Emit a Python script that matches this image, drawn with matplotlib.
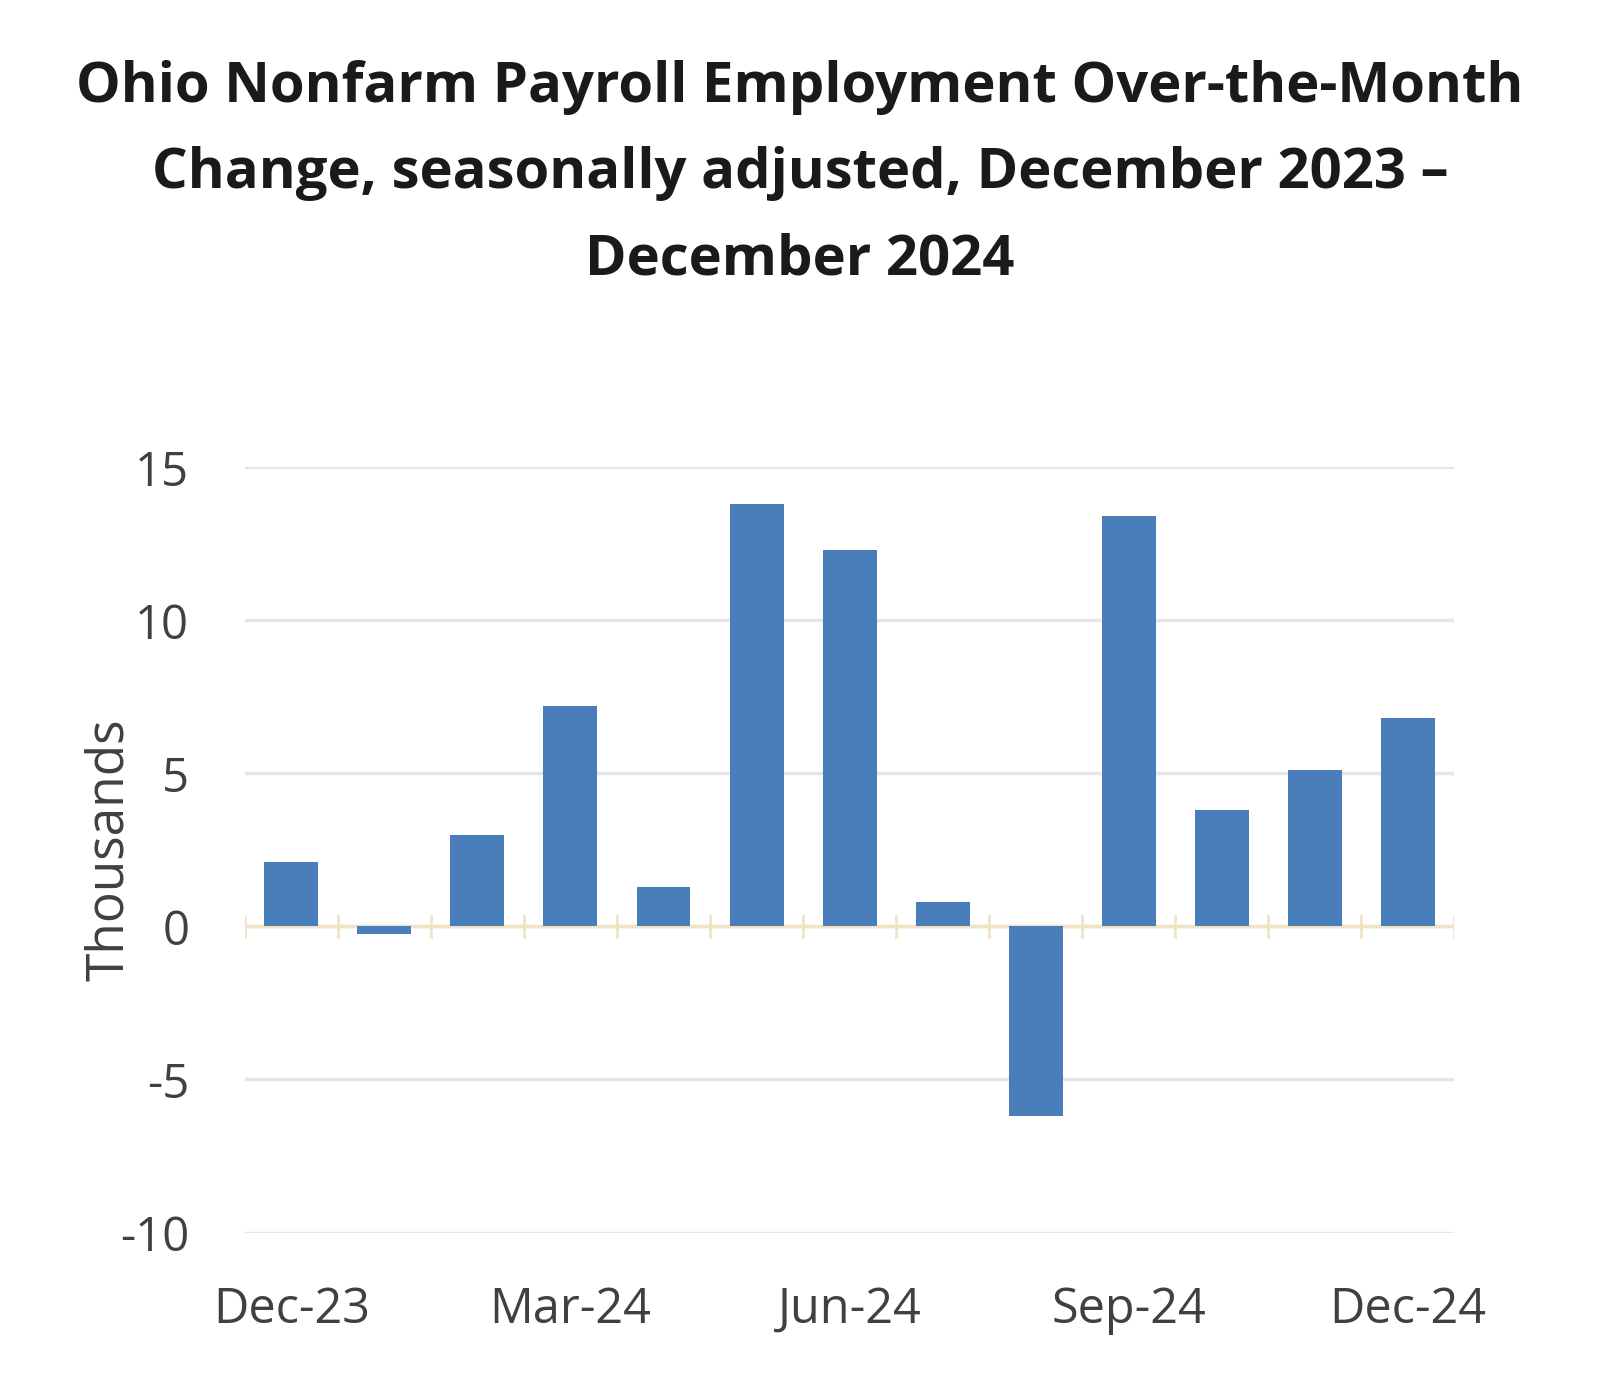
import matplotlib
matplotlib.use("Agg")
import matplotlib.pyplot as plt
import numpy as np

months = ["Dec-23", "Jan-24", "Feb-24", "Mar-24", "Apr-24", "May-24", "Jun-24",
          "Jul-24", "Aug-24", "Sep-24", "Oct-24", "Nov-24", "Dec-24"]
change = [2.1, -0.25, 3.0, 7.2, 1.3, 13.8, 12.3, 0.8, -6.2, 13.4, 3.8, 5.1, 6.8]
y_ticks = [-10, -5, 0, 5, 10, 15]

plt.rcParams['font.family'] = ['Open Sans', 'DejaVu Sans']

fig = plt.figure(figsize=(16, 13.99), dpi=100)
ax = fig.add_axes([0.153, 0.119, 0.756, 0.547])

x = np.arange(len(months))
ax.bar(x, change, width=0.58, color='#4a7ebb', zorder=3)

ax.set_ylim(-10, 15)
ax.set_xlim(-0.5, len(months) - 0.5)
ax.set_yticks(y_ticks)
ax.set_yticklabels([str(v) for v in y_ticks], fontsize=34, color='#404040')
ax.yaxis.grid(True, color='#e6e6e6', linewidth=2.5, zorder=0)
ax.tick_params(axis='y', length=0, pad=40)

# category labels every third month, below the plot
ax.set_xticks(x[::3])
ax.set_xticklabels(months[::3], fontsize=35, color='#404040')
ax.tick_params(axis='x', length=0, pad=38)

# zero line with tick marks between categories
ax.axhline(0, color='#f3e3c6', linewidth=2.5, zorder=2)
for b in np.arange(-0.5, len(months), 1.0):
    ax.plot([b, b], [-0.35, 0.35], color='#f3e3c6', linewidth=2, zorder=2)

for s in ax.spines.values():
    s.set_visible(False)

ax.set_ylabel('Thousands', fontsize=37, color='#404040')
ax.yaxis.set_label_coords(-0.091, 0.5)

fig.suptitle('Ohio Nonfarm Payroll Employment Over-the-Month\n'
             'Change, seasonally adjusted, December 2023 \u2013\n'
             'December 2024',
             fontsize=40.5, fontweight='bold', color='#1a1a1a',
             x=0.5, y=0.957, linespacing=1.74)

fig.savefig('out.png', dpi=100, facecolor='white')
